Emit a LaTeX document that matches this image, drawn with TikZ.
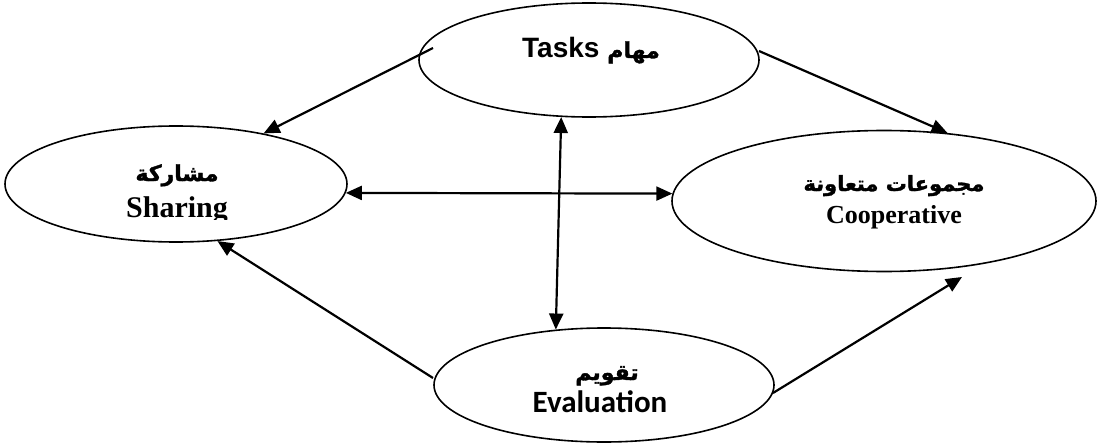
\documentclass[tikz,border=0pt]{standalone}
\usepackage{fontspec}
\setmainfont{Liberation Serif}
\newfontfamily\arabicfont[Script=Arabic,BoldFeatures={FakeBold=1.5}]{DejaVu Sans}
\newfontfamily\arialfont{Liberation Sans}
\newfontfamily\califont{Carlito}
\TeXXeTstate=1
\usetikzlibrary{shapes.geometric,arrows.meta}
\begin{document}
\begin{tikzpicture}[x=1pt,y=-1pt,
  oval/.style={draw, ellipse, line width=1.6pt, inner sep=0pt},
  conn/.style={line width=2.2pt, -{Triangle[length=16pt,width=14pt]}},
  dconn/.style={line width=2.2pt, {Triangle[length=16pt,width=14pt]}-{Triangle[length=16pt,width=14pt]}},
  lbl/.style={inner sep=0pt, anchor=base}]
\useasboundingbox (0,0) rectangle (1101,444);
% ellipses
\node[oval, minimum width=340pt, minimum height=114pt] (tasks) at (589,60) {};
\node[oval, minimum width=342pt, minimum height=116pt] (sharing) at (176,184) {};
\node[oval, minimum width=424pt, minimum height=141pt] (coop) at (884,201) {};
\node[oval, minimum width=340pt, minimum height=114pt] (eval) at (604,385) {};
% texts
\node[lbl] (tasksT) at (591,58) {\bfseries\arialfont\fontsize{28}{32}\selectfont Tasks {\arabicfont\fontsize{22}{26}\selectfont\beginR مهام\endR}};
\node[lbl] (sharingA) at (177,181) {\bfseries\arabicfont\fontsize{22}{26}\selectfont\beginR مشاركة\endR};
\begin{scope}
\clip (90,190) rectangle (270,219);
\node[lbl] (sharingE) at (177,217) {\bfseries\fontsize{30}{34}\selectfont Sharing};
\end{scope}
\node[lbl] (coopA) at (894,191) {\bfseries\arabicfont\fontsize{21}{25}\selectfont\beginR مجموعات متعاونة\endR};
\node[lbl] (coopE) at (894,223) {\bfseries\fontsize{26}{30}\selectfont Cooperative};
\node[lbl] (evalA) at (607,380) {\bfseries\arabicfont\fontsize{22}{26}\selectfont\beginR تقويم\endR};
\node[lbl] (evalE) at (600,412) {\bfseries\califont\fontsize{31}{35}\selectfont Evaluation};
% connector ends
\coordinate (s1) at (433,48);
\coordinate (s2) at (759,51);
\coordinate (s5) at (433,378);
\coordinate (s6) at (773,393);
\coordinate (t6) at (962,277);
% connectors
\draw[conn] (s1) -- (sharing.30);
\draw[conn] (s2) -- (coop.47);
\draw[dconn] (sharing.-3) -- (coop.178);
\draw[dconn] (tasks.244) -- (eval.131.5);
\draw[conn] (s5) -- (sharing.306);
\draw[conn] (s6) -- (t6);
\end{tikzpicture}
\end{document}
